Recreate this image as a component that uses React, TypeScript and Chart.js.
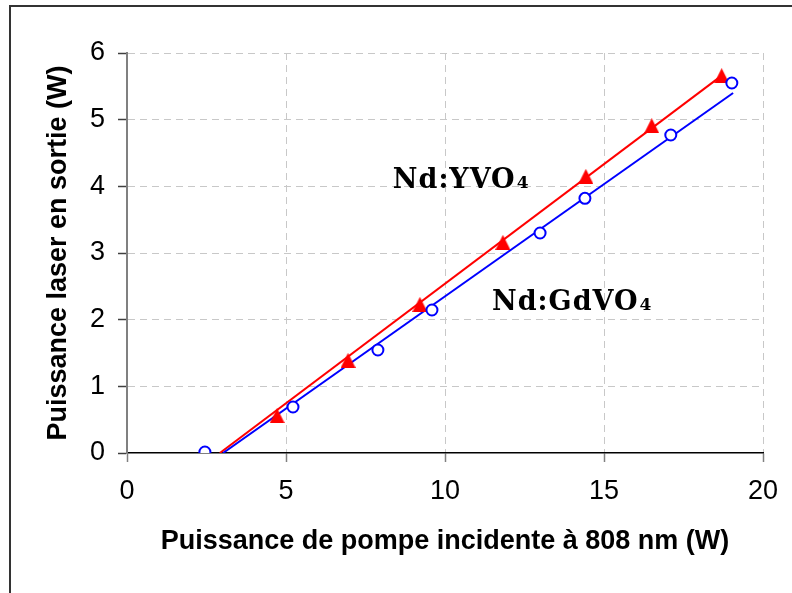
import React, { useEffect, useRef } from "react";
import { Chart, registerables } from "chart.js";

Chart.register(...registerables);

// Nd:YVO4 measured points (red triangles)
const yvo4X = [2.45, 4.72, 6.95, 9.21, 11.82, 14.43, 16.5, 18.7];
const yvo4Y = [-0.03, 0.56, 1.39, 2.23, 3.16, 4.15, 4.91, 5.66];
// Nd:GdVO4 measured points (blue circles)
const gdvo4X = [2.45, 5.22, 7.89, 9.59, 12.99, 14.4, 17.1, 19.02];
const gdvo4Y = [0.015, 0.69, 1.545, 2.145, 3.3, 3.82, 4.77, 5.55];
// Linear fit lines
const yvo4FitX = [2.92, 18.7];
const yvo4FitY = [0, 5.66];
const gdvo4FitX = [3.02, 19.06];
const gdvo4FitY = [0, 5.4];

const xTicks = [0, 5, 10, 15, 20];
const yTicks = [0, 1, 2, 3, 4, 5, 6];

const xTitle = "Puissance de pompe incidente à 808 nm (W)";
const yTitle = "Puissance laser en sortie (W)";

// Series labels: text, subscript, anchor (data units, left/baseline)
const labelMain = ["Nd:YVO", "Nd:GdVO"];
const labelSub = ["4", "4"];
const labelX = [8.36, 11.48];
const labelY = [3.97, 2.15];

const zip = (xs: number[], ys: number[]) => xs.map((x, i) => ({ x, y: ys[i] }));

function makeTriangle(): HTMLCanvasElement {
  const c = document.createElement("canvas");
  c.width = 15;
  c.height = 15;
  const g = c.getContext("2d")!;
  g.fillStyle = "#ff0000";
  g.beginPath();
  g.moveTo(7.5, 0);
  g.lineTo(15, 15);
  g.lineTo(0, 15);
  g.closePath();
  g.fill();
  return c;
}

const framePlugin = {
  id: "frame",
  beforeDraw(chart: any) {
    const ctx = chart.ctx;
    ctx.save();
    ctx.fillStyle = "#ffffff";
    ctx.fillRect(0, 0, chart.width, chart.height);
    ctx.strokeStyle = "#333333";
    ctx.lineWidth = 2;
    ctx.beginPath();
    ctx.moveTo(10, chart.height);
    ctx.lineTo(10, 6);
    ctx.lineTo(chart.width, 6);
    ctx.stroke();
    ctx.restore();
  },
};

const labelPlugin = {
  id: "seriesLabels",
  afterDatasetsDraw(chart: any) {
    const ctx = chart.ctx;
    const xs = chart.scales.x;
    const ys = chart.scales.y;
    ctx.save();
    ctx.fillStyle = "#000000";
    ctx.textBaseline = "alphabetic";
    ctx.textAlign = "left";
    labelMain.forEach((t, i) => {
      const px = xs.getPixelForValue(labelX[i]);
      const py = ys.getPixelForValue(labelY[i]);
      ctx.font = 'bold 27px "DejaVu Serif", serif';
      (ctx as any).letterSpacing = "1px";
      ctx.fillText(t, px, py);
      const w = ctx.measureText(t).width;
      ctx.font = 'bold 17px "DejaVu Serif", serif';
      ctx.fillText(labelSub[i], px + w + 1, py);
    });
    ctx.restore();
  },
};

export default function App() {
  const ref = useRef<HTMLCanvasElement>(null);
  useEffect(() => {
    if (!ref.current) return;
    Chart.defaults.font.family = '"Liberation Sans", Arial, sans-serif';
    Chart.defaults.color = "#000000";
    const tri = makeTriangle();
    const chart = new Chart(ref.current, {
      type: "scatter",
      data: {
        datasets: [
          {
            label: "fit YVO4",
            data: zip(yvo4FitX, yvo4FitY),
            showLine: true,
            borderColor: "#ff0000",
            borderWidth: 2,
            pointRadius: 0,
            order: 4,
          },
          {
            label: "fit GdVO4",
            data: zip(gdvo4FitX, gdvo4FitY),
            showLine: true,
            borderColor: "#0000ff",
            borderWidth: 2,
            pointRadius: 0,
            order: 3,
          },
          {
            label: "Nd:YVO4",
            data: zip(yvo4X, yvo4Y),
            pointStyle: tri as any,
            pointRadius: 8,
            backgroundColor: "#ff0000",
            borderColor: "#ff0000",
            borderWidth: 1,
            order: 2,
          },
          {
            label: "Nd:GdVO4",
            data: zip(gdvo4X, gdvo4Y),
            pointStyle: "circle",
            pointRadius: 5.5,
            backgroundColor: "#ffffff",
            borderColor: "#0000ff",
            borderWidth: 2,
            order: 1,
          },
        ],
      },
      options: {
        animation: false,
        responsive: false,
        devicePixelRatio: 1,
        layout: { padding: { left: 0, right: 29, top: 53, bottom: 0 } },
        plugins: {
          legend: { display: false },
          tooltip: { enabled: false },
        },
        scales: {
          x: {
            type: "linear",
            min: 0,
            max: 20,
            afterBuildTicks: (s: any) => {
              s.ticks = xTicks.map((v) => ({ value: v }));
            },
            afterFit: (s: any) => {
              s.height = 140;
            },
            ticks: {
              font: { size: 27 },
              padding: 13,
              color: "#000000",
            },
            grid: {
              color: (c: any) => (c.tick && c.tick.value === 0 ? "rgba(0,0,0,0)" : "#c8c8c8"),
              lineWidth: 1,
              tickColor: "#808080",
              tickLength: 9,
              tickWidth: 1.5,
            },
            border: { color: "#000000", width: 1.5, dash: [7, 5] },
            title: {
              display: true,
              text: xTitle,
              font: { size: 27, weight: "bold" },
              padding: { top: 0, bottom: 35 },
              color: "#000000",
            },
          },
          y: {
            type: "linear",
            min: 0,
            max: 6,
            afterBuildTicks: (s: any) => {
              s.ticks = yTicks.map((v) => ({ value: v }));
            },
            afterFit: (s: any) => {
              s.width = 127;
            },
            ticks: {
              font: { size: 27 },
              padding: 13,
              color: "#000000",
            },
            grid: {
              color: (c: any) => (c.tick && c.tick.value === 0 ? "rgba(0,0,0,0)" : "#c8c8c8"),
              lineWidth: 1,
              tickColor: "#404040",
              tickLength: 9,
              tickWidth: 1.5,
            },
            border: { color: "#808080", width: 2, dash: [7, 5] },
            title: {
              display: true,
              text: yTitle,
              font: { size: 27, weight: "bold" },
              padding: { top: 42, bottom: 0 },
              color: "#000000",
            },
          },
        },
      },
      plugins: [framePlugin, labelPlugin],
    });
    return () => chart.destroy();
  }, []);
  return (
    <div style={{ position: "absolute", left: 0, top: 0, width: 792, height: 593 }}>
      <canvas ref={ref} width={792} height={593} style={{ width: 792, height: 593 }} />
    </div>
  );
}
